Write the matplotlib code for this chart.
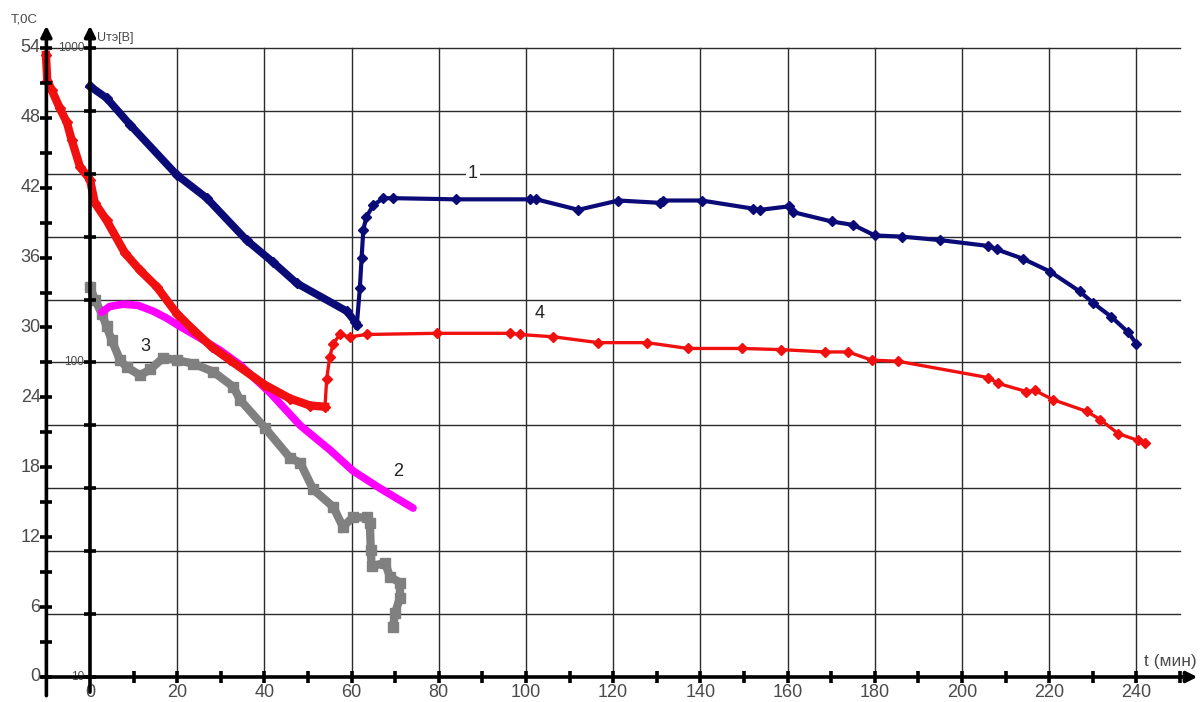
import matplotlib
matplotlib.use("Agg")
import matplotlib.pyplot as plt
import numpy as np

plt.rcParams['font.family'] = ['Liberation Sans', 'DejaVu Sans']

# time, minutes; values in T axis units (grid: 5 lines per decade of U)
t_1 = [0, 3.8, 9.2, 19.9, 26.8, 35.9, 42, 47.4, 58.9, 60.8, 61.2, 61.9, 62.3, 62.7,
       63.4, 65, 67.3, 69.6, 84, 100.9, 102.4, 112, 121.2, 130.7, 131.5, 140.3, 152.1,
       153.7, 160.4, 161.3, 170.1, 175.1, 180, 186.2, 195, 206, 208, 214, 220.2, 227,
       230.1, 234.3, 238.1, 240]
y_1 = [50.7, 49.7, 47.4, 43.1, 41.1, 37.5, 35.6, 33.8, 31.4, 30.5, 30.2, 33.4, 36.0, 38.4,
       39.5, 40.5, 41.1, 41.1, 41.0, 41.0, 41.0, 40.1, 40.9, 40.7, 40.9, 40.9, 40.2,
       40.1, 40.4, 39.9, 39.1, 38.8, 37.9, 37.8, 37.5, 37.0, 36.7, 35.9, 34.8, 33.1,
       32.1, 30.9, 29.6, 28.6]

t_4 = [-10.1, -9.8, -8.8, -6.9, -5.3, -4.2, -2.3, 0, 1.1, 3.8, 8, 11.5, 15.3, 19.9, 23.7,
       28, 32.1, 40, 45.9, 50.5, 53.9, 54.3, 55, 55.8, 57.3, 59.6, 63.5, 79.5, 96.3, 98.6,
       106.3, 116.6, 127.7, 137.2, 149.5, 158.6, 168.6, 173.9, 179.3, 185.4, 206, 208.3,
       214.8, 216.7, 220.9, 228.6, 231.7, 235.8, 240.4, 242]
y_4 = [53.4, 51.2, 50.4, 48.8, 47.6, 46.1, 43.8, 42.7, 40.7, 39.2, 36.4, 34.9, 33.5, 31.2,
       29.8, 28.3, 27.2, 25.1, 23.9, 23.3, 23.2, 25.6, 27.5, 28.6, 29.4, 29.2, 29.4, 29.5,
       29.5, 29.4, 29.2, 28.7, 28.7, 28.2, 28.2, 28.1, 27.9, 27.9, 27.2, 27.1, 25.7, 25.2,
       24.5, 24.6, 23.8, 22.8, 22.1, 20.9, 20.3, 20.1]

t_2 = [2.7, 4.5, 7.6, 11, 14.5, 17.6, 20.6, 25.2, 30, 34.4, 41.3, 48.2, 55, 60.3, 66.5, 74.1]
y_2 = [31.3, 31.8, 32.0, 31.9, 31.4, 30.8, 30.1, 29.1, 28.0, 26.8, 24.4, 21.6, 19.5, 17.7,
       16.2, 14.5]

t_3 = [0, 1.1, 2.7, 3.8, 5, 6.9, 8.4, 11.5, 13.8, 16.8, 19.9, 23.7, 28.3, 32.9, 34.4, 40.1,
       45.9, 48.2, 51.2, 55.8, 58.0, 60.3, 63.5, 64.2, 64.4, 64.6, 67.7, 68.8, 71.1, 71.1,
       70.0, 69.5]
y_3 = [33.5, 32.4, 31.2, 30.1, 28.9, 27.2, 26.6, 25.9, 26.4, 27.4, 27.2, 26.9, 26.2, 24.9,
       23.8, 21.4, 18.8, 18.4, 16.1, 14.6, 12.9, 13.7, 13.7, 13.2, 10.9, 9.5, 9.8, 8.6,
       8.1, 6.8, 5.5, 4.3]

x_labels = [0, 20, 40, 60, 80, 100, 120, 140, 160, 180, 200, 220, 240]
T_labels = [0, 6, 12, 18, 24, 30, 36, 42, 48, 54]
U_labels = ['10', '100', '1000']

fig = plt.figure(figsize=(12, 7.02), dpi=100)
ax = fig.add_axes([0, 0, 1, 1])
ax.set_xlim(-20.64, 254.6)
ax.set_ylim(-2.146, 58.11)
ax.axis('off')

grid_c = '#2b2b2b'
text_c = '#4a4a4a'
T_AX = -10.0
grid_step = 5.4

# grid
for k in range(1, 11):
    ax.plot([T_AX, 250], [k * grid_step] * 2, color=grid_c, lw=1.0, zorder=1)
for xv in x_labels[1:]:
    ax.plot([xv, xv], [0, 54], color=grid_c, lw=1.0, zorder=1)

# axes with arrows
arrow = dict(arrowstyle='-|>', lw=2.6, color='black', mutation_scale=16,
             shrinkA=0, shrinkB=0)
ax.annotate('', xy=(254.0, 0), xytext=(-11.0, 0), arrowprops=arrow, zorder=5)
ax.annotate('', xy=(T_AX, 55.9), xytext=(T_AX, -1.6), arrowprops=arrow, zorder=5)
ax.annotate('', xy=(0, 55.9), xytext=(0, -1.3), arrowprops=arrow, zorder=5)

# tick marks
ax.plot([T_AX] * 19, np.arange(0, 55, 3), ls='none', marker='_', ms=8, mew=2.6,
        color='black', zorder=6)
ax.plot([0] * 11, np.arange(11) * grid_step, ls='none', marker='_', ms=8, mew=2.6,
        color='black', zorder=6)
ax.plot(np.arange(10, 251, 10), [0] * 25, ls='none', marker='|', ms=8, mew=2.6,
        color='black', zorder=6)

# tick labels
for v in T_labels:
    ax.text(-11.3, v, str(v), ha='right', va='center', fontsize=13, color=text_c)
for v in x_labels:
    ax.text(v, -1.37, str(v), ha='center', va='center', fontsize=13, color=text_c)
for i, lab in enumerate(U_labels):
    ax.text(-1.3, 27 * i, lab, ha='right', va='center', fontsize=8.5, color=text_c)

ax.text(-15.1, 56.4, 'T,0C', ha='center', va='center', fontsize=9.5, color=text_c)
ax.text(1.5, 54.85, 'Uтэ[B]', ha='left', va='center', fontsize=9, color=text_c)
ax.text(253.8, 1.3, 't (мин)', ha='right', va='center', fontsize=12.5, color=text_c)

# curves
ax.plot(t_3, y_3, color='#808080', lw=6, marker='s', ms=7, zorder=3,
        solid_joinstyle='miter')
ax.plot(t_2, y_2, color='#ff00ff', lw=5.5, solid_capstyle='round', zorder=3)
ax.plot(t_4, y_4, color='#f01010', lw=2.4, marker='D', ms=5.5, zorder=4)
ax.plot(t_4[:21], y_4[:21], color='#f01010', lw=6, zorder=4)
ax.plot(t_1, y_1, color='#0b0b78', lw=3, marker='D', ms=5, zorder=4)
ax.plot(t_1[:11], y_1[:11], color='#0b0b78', lw=5.5, zorder=4)

# curve numbers
bbox = dict(facecolor='white', edgecolor='none', pad=1.5)
ax.text(87.8, 43.2, '1', ha='center', va='center', fontsize=13, color='#222222',
        bbox=bbox, zorder=2)
ax.text(70.6, 17.6, '2', ha='center', va='center', fontsize=13, color='#222222')
ax.text(12.8, 28.35, '3', ha='center', va='center', fontsize=13, color='#222222')
ax.text(103.2, 31.2, '4', ha='center', va='center', fontsize=13, color='#222222')

fig.savefig('out.png', dpi=100, facecolor='white')
